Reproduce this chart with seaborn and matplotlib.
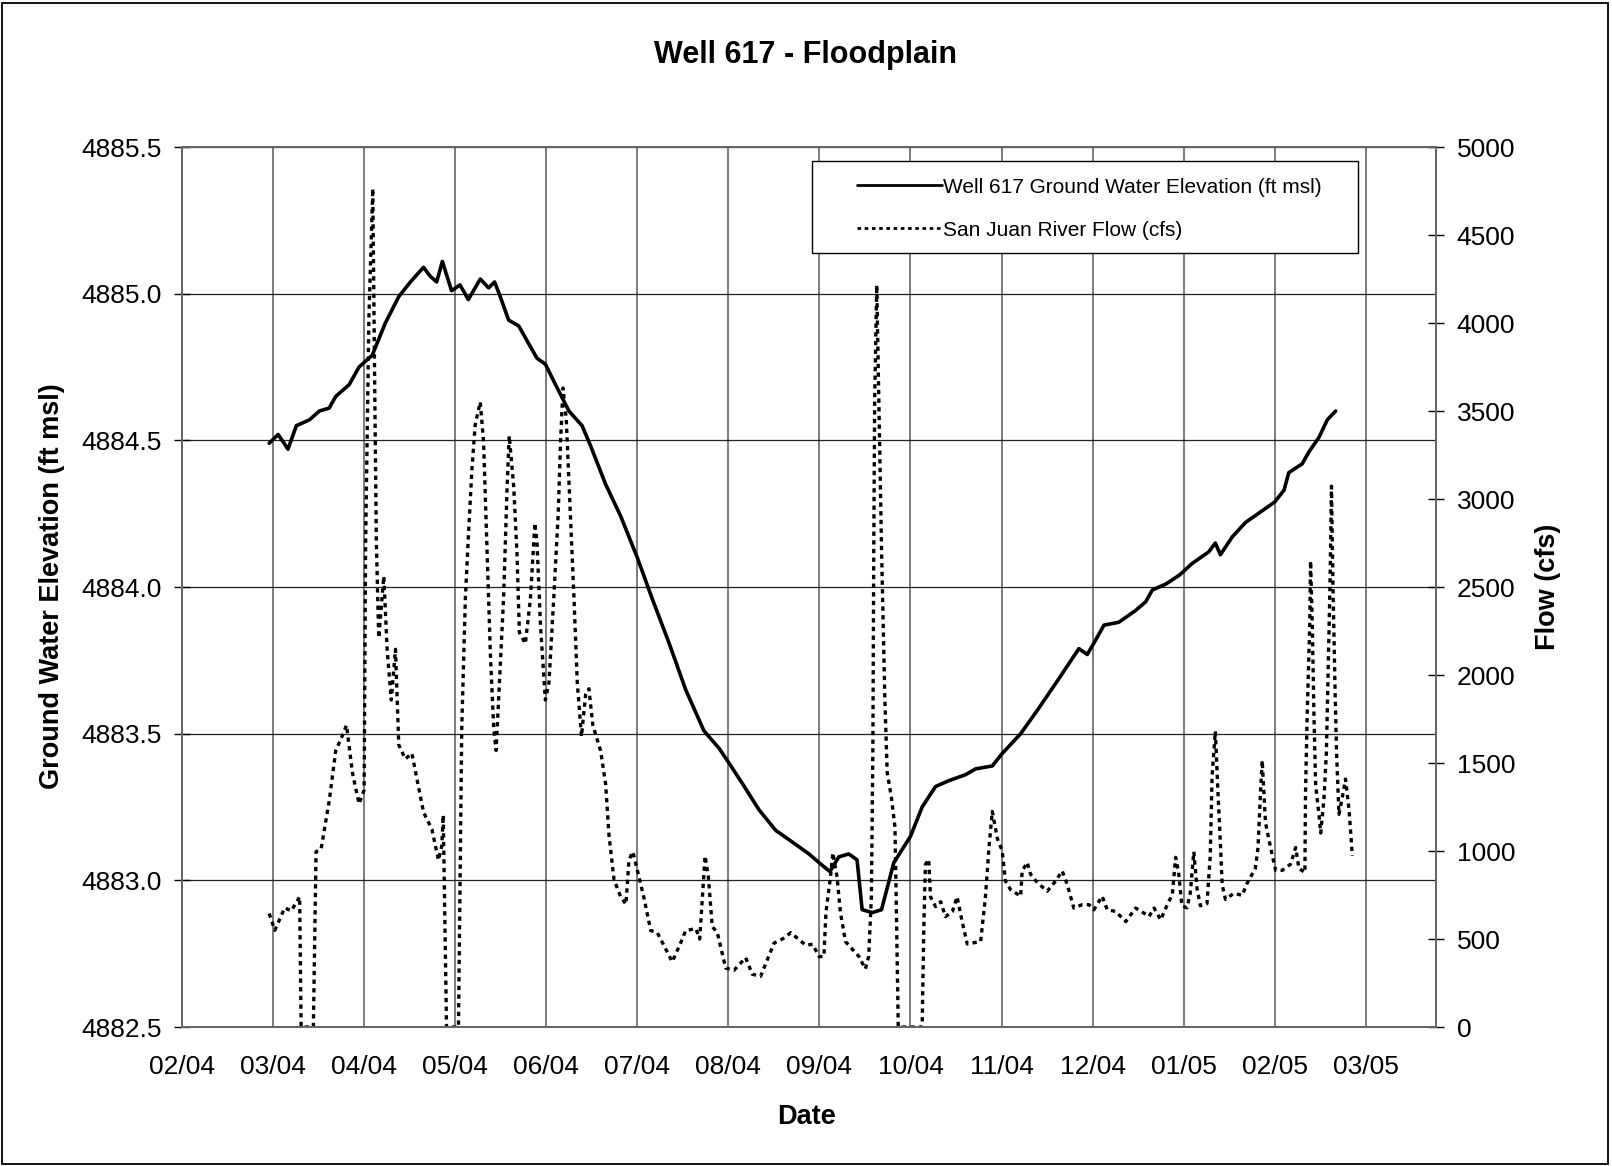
import matplotlib
matplotlib.use('Agg')
import numpy as np
import pandas as pd
import matplotlib.pyplot as plt
import matplotlib.dates as mdates
from matplotlib.patches import Rectangle
import seaborn as sns

# all x values are days after 1 Feb 2004
START = pd.Timestamp('2004-02-01')

well_day = [29.2, 32.2, 35.5, 38.3, 42.7, 46.0, 49.3, 51.5, 56.0, 59.3,
            61.5, 63.7, 68.1, 72.6, 76.5, 80.9, 83.1, 85.3, 87.2, 90.3,
            93.1, 95.9, 99.9, 102.7, 104.7, 106.6, 109.4, 112.8, 116.1, 118.9,
            121.7, 125.1, 129.6, 134.0, 136.9, 141.9, 147.0, 152.5, 157.5, 163.1,
            168.7, 174.8, 179.9, 183.2, 187.7, 193.3, 198.9, 204.5, 210.0, 213.4,
            217.0, 220.0, 223.3, 226.1, 227.8, 231.2, 234.3, 238.4, 244.0, 247.9,
            252.4, 256.9, 262.4, 265.8, 271.4, 274.5, 280.9, 286.5, 293.2, 300.4,
            303.2, 305.5, 308.8, 313.8, 319.4, 322.8, 325.0, 329.5, 334.0, 338.3,
            343.9, 346.1, 347.8, 351.7, 356.2, 361.8, 366.0, 369.1, 370.7, 375.2,
            377.4, 380.8, 383.6, 386.4]
well_elev = [4884.49, 4884.52, 4884.47, 4884.55, 4884.57, 4884.60, 4884.61, 4884.65, 4884.69, 4884.75,
             4884.77, 4884.79, 4884.90, 4884.99, 4885.04, 4885.09, 4885.06, 4885.04, 4885.11, 4885.01,
             4885.03, 4884.98, 4885.05, 4885.02, 4885.04, 4884.99, 4884.91, 4884.89, 4884.83, 4884.78,
             4884.76, 4884.69, 4884.60, 4884.55, 4884.48, 4884.35, 4884.24, 4884.10, 4883.96, 4883.81,
             4883.65, 4883.51, 4883.45, 4883.40, 4883.33, 4883.24, 4883.17, 4883.13, 4883.09, 4883.06,
             4883.03, 4883.08, 4883.09, 4883.07, 4882.90, 4882.89, 4882.90, 4883.06, 4883.15, 4883.25,
             4883.32, 4883.34, 4883.36, 4883.38, 4883.39, 4883.43, 4883.50, 4883.58, 4883.68, 4883.79,
             4883.77, 4883.81, 4883.87, 4883.88, 4883.92, 4883.95, 4883.99, 4884.01, 4884.04, 4884.08,
             4884.12, 4884.15, 4884.11, 4884.17, 4884.22, 4884.26, 4884.29, 4884.33, 4884.39, 4884.42,
             4884.46, 4884.51, 4884.57, 4884.60]

flow_day = [29.2, 31.1, 34.4, 36.6, 39.4, 39.9, 44.0, 44.9, 46.6, 49.3,
            51.5, 53.2, 55.1, 57.1, 59.3, 61.0, 61.5, 62.6, 63.9, 64.6,
            65.1, 65.9, 67.6, 68.7, 70.1, 71.5, 72.6, 74.8, 77.0, 80.9,
            83.7, 85.9, 87.0, 87.5, 88.6, 92.6, 93.7, 94.9, 96.0, 97.1,
            98.2, 99.9, 101.0, 102.1, 103.3, 104.4, 105.2, 106.6, 107.7, 108.9,
            109.6, 111.1, 112.2, 113.0, 115.0, 116.7, 118.2, 118.9, 120.1, 121.7,
            122.9, 124.5, 126.0, 126.8, 127.6, 128.7, 130.1, 131.3, 132.4, 133.8,
            135.2, 136.3, 137.6, 140.2, 141.9, 143.0, 144.7, 146.9, 148.7, 149.7,
            151.0, 153.1, 154.7, 157.0, 159.2, 164.2, 167.0, 168.7, 172.1, 173.4,
            174.3, 175.2, 176.3, 177.6, 179.3, 182.1, 184.9, 188.8, 191.0, 193.8,
            198.3, 201.1, 203.9, 208.9, 211.2, 213.4, 215.0, 215.7, 217.2, 218.0,
            219.4, 220.5, 222.2, 224.5, 226.7, 228.9, 230.0, 230.9, 231.4, 231.7,
            232.0, 232.7, 233.4, 234.3, 235.4, 236.2, 237.6, 238.8, 239.2, 239.9,
            247.9, 248.5, 249.0, 250.1, 250.7, 252.4, 254.1, 255.7, 258.0, 259.6,
            261.3, 263.0, 267.5, 269.1, 270.3, 271.4, 273.1, 274.7, 275.8, 277.5,
            280.9, 281.4, 283.1, 284.2, 286.5, 289.8, 292.6, 294.8, 296.5, 298.7,
            301.5, 303.8, 305.4, 308.2, 309.9, 312.7, 316.1, 319.4, 322.2, 323.9,
            325.6, 327.8, 330.0, 331.7, 332.8, 333.8, 334.9, 336.6, 337.7, 338.9,
            340.0, 341.1, 343.3, 344.4, 345.0, 346.1, 347.0, 347.8, 348.4, 349.5,
            352.3, 355.1, 356.8, 359.5, 360.4, 361.2, 361.8, 362.9, 364.6, 366.3,
            368.5, 371.3, 373.0, 374.1, 376.1, 376.3, 376.9, 377.7, 378.0, 378.6,
            379.1, 379.7, 380.8, 381.4, 382.5, 383.3, 383.9, 384.5, 385.0, 385.5,
            386.2, 386.7, 387.5, 388.6, 389.7, 390.9, 392.0]
flow_cfs = [645, 550, 677, 660, 740, 0, 0, 996, 1012, 1283,
            1571, 1635, 1715, 1443, 1268, 1347, 2752, 4030, 4764, 3551,
            2752, 2210, 2561, 2146, 1858, 2146, 1603, 1523, 1555, 1220,
            1124, 948, 1028, 1204, 0, 0, 1699, 2433, 2816, 3167,
            3423, 3551, 3327, 2752, 2114, 1699, 1571, 2050, 2433, 3072,
            3359, 3072, 2689, 2242, 2178, 2433, 2864, 2752, 2273, 1858,
            1954, 2433, 2912, 3327, 3631, 3455, 2912, 2433, 1954, 1651,
            1890, 1922, 1715, 1571, 1379, 1092, 837, 741, 697, 949,
            996, 850, 736, 548, 536, 371, 477, 548, 559, 500,
            736, 972, 854, 571, 536, 335, 323, 394, 300, 288,
            477, 500, 536, 465, 470, 400, 401, 655, 853, 990,
            853, 655, 486, 443, 401, 330, 401, 740, 1588, 2718,
            3565, 4215, 3565, 2718, 1870, 1446, 1305, 1136, 740, 0,
            0, 599, 924, 952, 740, 684, 712, 627, 655, 740,
            599, 472, 486, 740, 1023, 1225, 1070, 1002, 829, 781,
            743, 887, 935, 868, 820, 772, 829, 887, 810, 676,
            695, 695, 666, 743, 666, 657, 599, 676, 647, 628,
            676, 609, 695, 753, 964, 878, 689, 677, 760, 996,
            783, 689, 701, 972, 1421, 1680, 1326, 1043, 807, 725,
            760, 748, 819, 901, 1020, 1326, 1515, 1161, 1020, 890,
            890, 925, 1020, 901, 878, 1326, 1798, 2270, 2648, 2270,
            1798, 1373, 1208, 1102, 1303, 1562, 2034, 2506, 3073, 2506,
            1916, 1562, 1208, 1303, 1409, 1232, 972]

well_label = 'Well 617 Ground Water Elevation (ft msl)'
flow_label = 'San Juan River Flow (cfs)'

sns.set_style('white')
plt.rcParams['font.family'] = ['Liberation Sans', 'DejaVu Sans']
plt.rcParams['text.color'] = 'black'
plt.rcParams['axes.labelcolor'] = 'black'
plt.rcParams['xtick.color'] = 'black'
plt.rcParams['ytick.color'] = 'black'

well = pd.DataFrame({'date': START + pd.to_timedelta(well_day, unit='D'), 'elev': well_elev})
flow = pd.DataFrame({'date': START + pd.to_timedelta(flow_day, unit='D'), 'cfs': flow_cfs})

fig = plt.figure(figsize=(16.12, 11.66), dpi=100)
ax = fig.add_axes([0.1129, 0.1192, 0.7779, 0.7547])
ax2 = ax.twinx()

sns.lineplot(data=well, x='date', y='elev', ax=ax, color='black', linewidth=2.6,
             estimator=None, sort=False, legend=False)
sns.lineplot(data=flow, x='date', y='cfs', ax=ax2, color='black', linewidth=2.4,
             linestyle=(0, (1.3, 1.3)), estimator=None, sort=False, legend=False)

# axis ranges / ticks (Excel-style 30.5 day major unit)
x_ticks = [START + pd.Timedelta(days=30.5 * k) for k in range(14)]
ax.set_xlim(START, START + pd.Timedelta(days=420))
ax.set_xticks(x_ticks)
ax.xaxis.set_major_formatter(mdates.DateFormatter('%m/%y'))
ax.set_ylim(4882.5, 4885.5)
ax.set_yticks(np.arange(4882.5, 4885.51, 0.5))
ax.yaxis.set_major_formatter(matplotlib.ticker.FormatStrFormatter('%.1f'))
ax2.set_ylim(0, 5000)
ax2.set_yticks(np.arange(0, 5001, 500))

ax.set_xlabel('')
ax.set_ylabel('')
ax2.set_ylabel('')

ax.xaxis.grid(True, color='#666666', linewidth=1.2)
ax.yaxis.grid(True, color='#222222', linewidth=0.9)
ax2.grid(False)

for a in (ax, ax2):
    for s in a.spines.values():
        s.set_color('#666666')
        s.set_linewidth(1.4)
        s.set_visible(True)

ax.tick_params(axis='y', direction='inout', length=12, width=1, pad=8.5, labelsize=19, colors='black')
ax2.tick_params(axis='y', direction='inout', length=12, width=1, pad=9, labelsize=19, colors='black')
ax.tick_params(axis='x', direction='out', length=6, width=1, pad=14, labelsize=19, colors='black')

fig.text(0.5, 0.953, 'Well 617 - Floodplain', ha='center', va='center',
         fontsize=22, fontweight='bold')
fig.text(0.032, 0.497, 'Ground Water Elevation (ft msl)', ha='center', va='center',
         rotation=90, fontsize=19.5, fontweight='bold')
fig.text(0.960, 0.497, 'Flow (cfs)', ha='center', va='center',
         rotation=90, fontsize=19.5, fontweight='bold')
fig.text(0.5006, 0.042, 'Date', ha='center', va='center', fontsize=19.5, fontweight='bold')

# legend box drawn separately, legend itself frameless
fig.add_artist(Rectangle((0.5037, 0.783), 0.3387, 0.0786, transform=fig.transFigure,
                         fill=True, facecolor='white', edgecolor='black', linewidth=1.0, zorder=5))
handles = [ax.lines[0], ax2.lines[0]]
leg = fig.legend(handles, [well_label, flow_label], loc='upper left',
                 bbox_to_anchor=(0.5318, 0.8477), bbox_transform=fig.transFigure,
                 frameon=False, fontsize=15, handlelength=4.05, handletextpad=0.05,
                 labelspacing=1.15, borderpad=0, borderaxespad=0)
leg.set_zorder(6)
for ln in leg.get_lines():
    ln.set_linewidth(2.0)

# chart border
fig.add_artist(Rectangle((0.0015, 0.002), 0.996, 0.9955, transform=fig.transFigure,
                         fill=False, edgecolor='black', linewidth=1.3))

fig.savefig('out.png', dpi=100)
